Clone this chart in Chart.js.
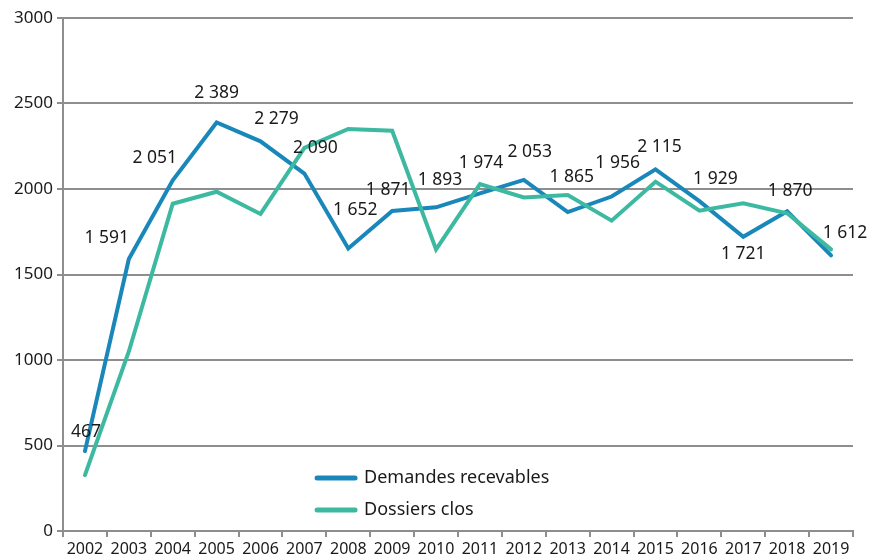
<!DOCTYPE html>
<html>
<head>
<meta charset="utf-8">
<script src="https://cdn.jsdelivr.net/npm/chart.js@4.4.1/dist/chart.umd.min.js"></script>
<style>
  html, body { margin: 0; padding: 0; background: #ffffff; }
  #wrap { width: 881px; height: 559px; position: relative; }
</style>
</head>
<body>
<div id="wrap"><canvas id="c" width="881" height="559"></canvas></div>
<script>
// ---- Data ----
const categories = ['2002','2003','2004','2005','2006','2007','2008','2009','2010','2011','2012','2013','2014','2015','2016','2017','2018','2019'];
const demandesRecevables = [467, 1591, 2051, 2389, 2279, 2090, 1652, 1871, 1893, 1974, 2053, 1865, 1956, 2115, 1929, 1721, 1870, 1612];
const dossiersClos = [327, 1050, 1914, 1984, 1854, 2240, 2351, 2341, 1647, 2029, 1951, 1965, 1815, 2043, 1873, 1916, 1858, 1647];
const yTicks = [0, 500, 1000, 1500, 2000, 2500, 3000];
const seriesNames = ['Demandes recevables', 'Dossiers clos'];

// ---- Styles ----
const BLUE = '#1a87bb';
const TEAL = '#3db9a2';
const GRID = '#8e8e8e';
const TEXT = '#1a1a1a';
const FONT = "'Noto Sans', 'DejaVu Sans', sans-serif";
// label offsets (px) relative to each point of the first series
const labelDX = [1, -22, -18, 0, 16, 11, 7, -4, 4, 1, 6, 4, 6, 4, 16, 0, 3, 14];
const labelDY = [-19, -21, -22, -29, -22, -26, -38, -21, -27, -30, -28, -35, -34, -22, -22, 17, -20, -22];

function fmt(v) {
  if (v < 1000) return String(v);
  return Math.floor(v / 1000) + ' ' + String(v % 1000).padStart(3, '0');
}

const dataLabels = {
  id: 'dataLabels',
  afterDatasetsDraw(chart) {
    const meta = chart.getDatasetMeta(0);
    const ctx = chart.ctx;
    ctx.save();
    ctx.font = '17.5px ' + FONT;
    ctx.fillStyle = TEXT;
    ctx.textAlign = 'center';
    ctx.textBaseline = 'middle';
    meta.data.forEach((pt, i) => {
      ctx.fillText(fmt(demandesRecevables[i]), pt.x + labelDX[i], pt.y + labelDY[i]);
    });
    ctx.restore();
  }
};

const innerLegend = {
  id: 'innerLegend',
  afterDraw(chart) {
    const a = chart.chartArea;
    const ctx = chart.ctx;
    const x0 = a.left + (a.right - a.left) * 0.3216;
    const x1 = x0 + 38;
    const ys = [a.bottom - 53, a.bottom - 21];
    const cols = [BLUE, TEAL];
    ctx.save();
    ctx.font = '18px ' + FONT;
    ctx.textAlign = 'left';
    ctx.textBaseline = 'middle';
    seriesNames.forEach((name, i) => {
      ctx.strokeStyle = cols[i];
      ctx.lineWidth = 5;
      ctx.lineCap = 'round';
      ctx.beginPath();
      ctx.moveTo(x0, ys[i]);
      ctx.lineTo(x1, ys[i]);
      ctx.stroke();
      ctx.fillStyle = TEXT;
      ctx.fillText(name, x1 + 9, ys[i]);
    });
    ctx.restore();
  }
};

new Chart(document.getElementById('c'), {
  type: 'line',
  data: {
    labels: categories,
    datasets: [
      {
        label: seriesNames[0],
        data: demandesRecevables,
        borderColor: BLUE,
        backgroundColor: BLUE,
        borderWidth: 4,
        pointRadius: 0,
        tension: 0,
        borderCapStyle: 'round',
        order: 1
      },
      {
        label: seriesNames[1],
        data: dossiersClos,
        borderColor: TEAL,
        backgroundColor: TEAL,
        borderWidth: 4,
        pointRadius: 0,
        tension: 0,
        borderCapStyle: 'round',
        order: 0
      }
    ]
  },
  options: {
    responsive: false,
    animation: false,
    devicePixelRatio: 1,
    layout: { padding: { top: 18, right: 28, bottom: 0, left: 0 } },
    plugins: {
      legend: { display: false },
      tooltip: { enabled: false }
    },
    scales: {
      x: {
        type: 'category',
        offset: true,
        grid: {
          offset: true,
          drawOnChartArea: false,
          drawTicks: true,
          tickLength: 6,
          color: GRID,
          lineWidth: 2
        },
        border: { display: true, color: GRID, width: 2 },
        ticks: {
          autoSkip: false,
          maxRotation: 0,
          minRotation: 0,
          padding: 3,
          color: TEXT,
          font: { family: FONT, size: 16 }
        },
        afterFit(s) { s.height = 28; }
      },
      y: {
        min: 0,
        max: 3000,
        afterBuildTicks(s) { s.ticks = yTicks.map(v => ({ value: v })); },
        grid: {
          drawTicks: true,
          tickLength: 6,
          color: GRID,
          lineWidth: 2
        },
        border: { display: true, color: GRID, width: 2 },
        ticks: {
          padding: 4,
          color: TEXT,
          font: { family: FONT, size: 17 },
          callback: v => String(v)
        },
        afterFit(s) { s.width = 63; }
      }
    }
  },
  plugins: [dataLabels, innerLegend]
});
</script>
</body>
</html>
